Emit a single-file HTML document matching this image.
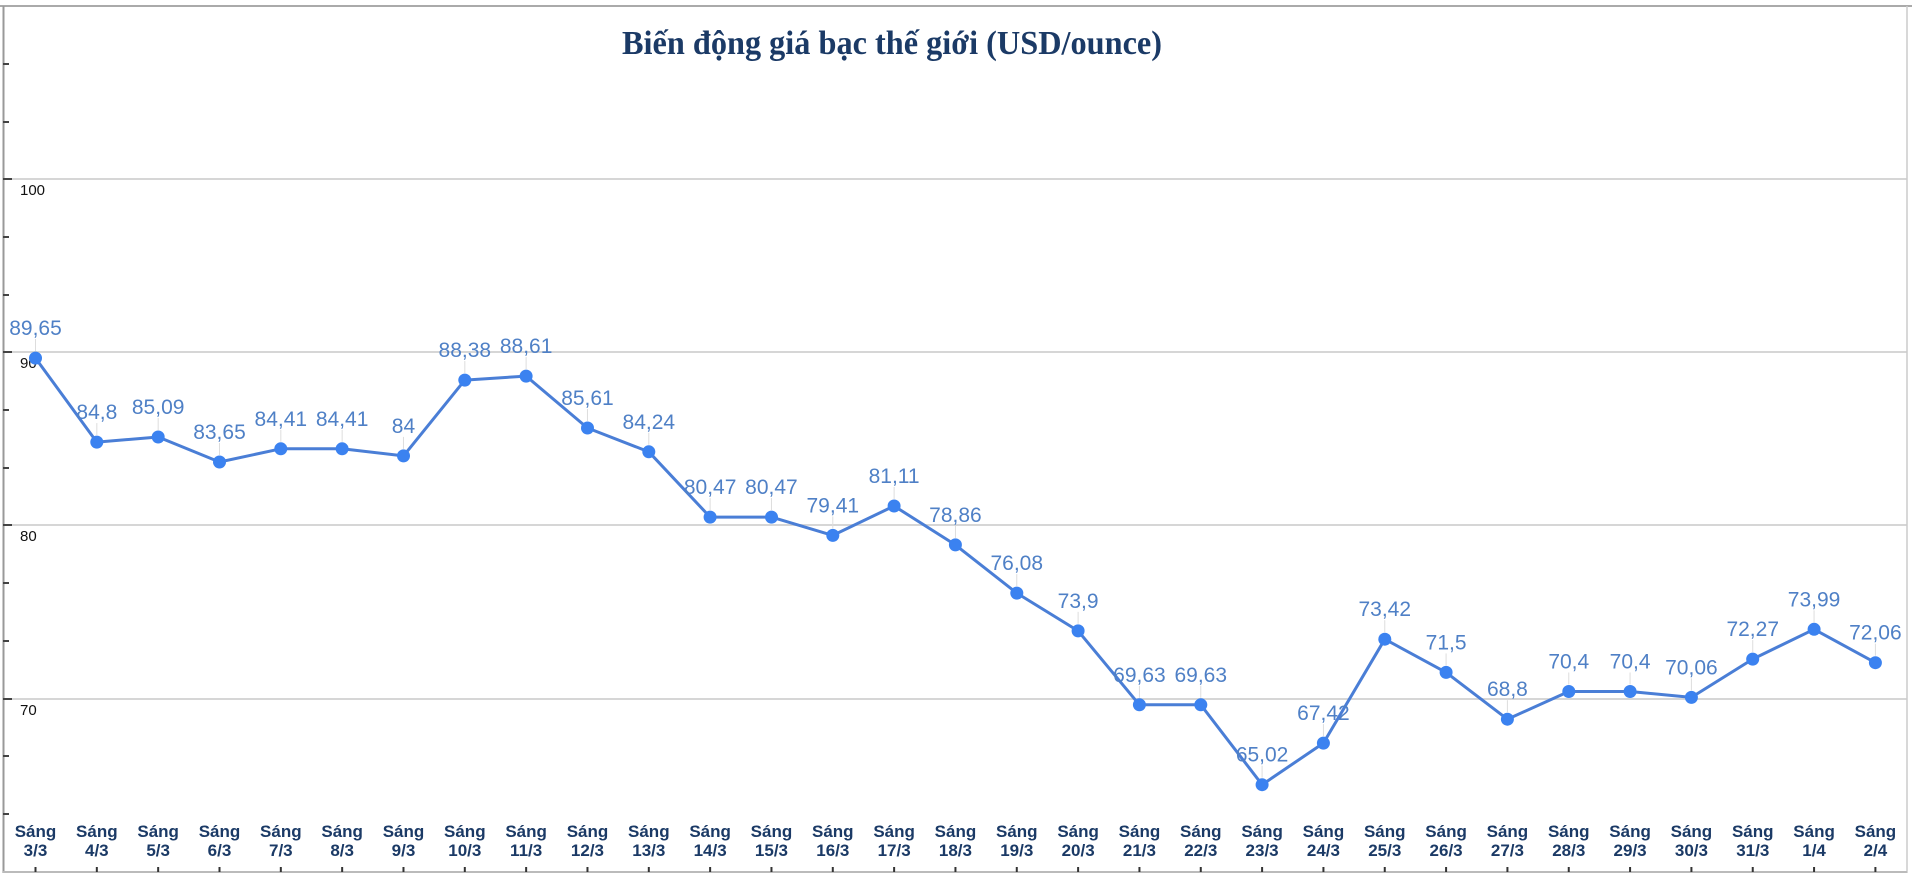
<!DOCTYPE html>
<html><head><meta charset="utf-8"><style>
html,body{margin:0;padding:0;background:#fff;}
svg{display:block;}
</style></head><body>
<svg width="1912" height="877" viewBox="0 0 1912 877" xmlns="http://www.w3.org/2000/svg">
<rect width="1912" height="877" fill="#fff"/>
<line x1="0" y1="6" x2="1912" y2="6" stroke="#aaa" stroke-width="2"/>
<g stroke="#d6d6d6" stroke-width="2">
<line x1="4" y1="179" x2="1907" y2="179"/>
<line x1="4" y1="352" x2="1907" y2="352"/>
<line x1="4" y1="525" x2="1907" y2="525"/>
<line x1="4" y1="699" x2="1907" y2="699"/>
</g>
<line x1="3.5" y1="6" x2="3.5" y2="873" stroke="#999" stroke-width="2"/>
<line x1="1907" y1="6" x2="1907" y2="873" stroke="#ccc" stroke-width="1.5"/>
<line x1="3" y1="872" x2="1907" y2="872" stroke="#bbb" stroke-width="2"/>
<g stroke="#444" stroke-width="2">
<line x1="3" y1="64" x2="9" y2="64"/><line x1="3" y1="122" x2="9" y2="122"/><line x1="3" y1="179" x2="12" y2="179"/>
<line x1="3" y1="237" x2="9" y2="237"/><line x1="3" y1="295" x2="9" y2="295"/><line x1="3" y1="352" x2="12" y2="352"/>
<line x1="3" y1="410" x2="9" y2="410"/><line x1="3" y1="468" x2="9" y2="468"/><line x1="3" y1="525" x2="12" y2="525"/>
<line x1="3" y1="583" x2="9" y2="583"/><line x1="3" y1="641" x2="9" y2="641"/><line x1="3" y1="699" x2="12" y2="699"/>
<line x1="3" y1="756" x2="9" y2="756"/><line x1="3" y1="814" x2="9" y2="814"/>
</g>
<g font-family="Liberation Sans, sans-serif" font-size="15" fill="#111">
<text x="20" y="195">100</text><text x="20" y="368">90</text><text x="20" y="541">80</text><text x="20" y="715">70</text>
</g>
<text x="892" y="54" text-anchor="middle" font-family="Liberation Serif, serif" font-weight="bold" font-size="34" fill="#1b3a66" textLength="540" lengthAdjust="spacingAndGlyphs">Biến động giá bạc thế giới (USD/ounce)</text>
<g id="chart"></g>
</svg>
<script>
var v=[89.65,84.8,85.09,83.65,84.41,84.41,84,88.38,88.61,85.61,84.24,80.47,80.47,79.41,81.11,78.86,76.08,73.9,69.63,69.63,65.02,67.42,73.42,71.5,68.8,70.4,70.4,70.06,72.27,73.99,72.06];
var d=["3/3","4/3","5/3","6/3","7/3","8/3","9/3","10/3","11/3","12/3","13/3","14/3","15/3","16/3","17/3","18/3","19/3","20/3","21/3","22/3","23/3","24/3","25/3","26/3","27/3","28/3","29/3","30/3","31/3","1/4","2/4"];
var g=document.getElementById('chart'),s='',pts=[];
for(var i=0;i<v.length;i++){var x=35.5+i*61.33,y=352-(v[i]-90)*17.32;pts.push(x.toFixed(1)+','+y.toFixed(1));
var lab=String(v[i]).replace('.',',');
s+='<line x1="'+x+'" y1="'+(y-19)+'" x2="'+x+'" y2="'+(y-7)+'" stroke="#ddd" stroke-width="1"/>';
s+='<text x="'+x+'" y="'+(y-23)+'" text-anchor="middle" font-family="Liberation Sans, sans-serif" font-size="21" fill="#4f80c6">'+lab+'</text>';
s+='<text x="'+x+'" y="837" text-anchor="middle" font-family="Liberation Sans, sans-serif" font-weight="bold" font-size="17" fill="#1b3a66">Sáng</text>';
s+='<text x="'+x+'" y="856" text-anchor="middle" font-family="Liberation Sans, sans-serif" font-weight="bold" font-size="17" fill="#1b3a66">'+d[i]+'</text>';
s+='<line x1="'+x+'" y1="867" x2="'+x+'" y2="872" stroke="#333" stroke-width="2"/>';}
s='<polyline points="'+pts.join(' ')+'" fill="none" stroke="#4a7ed6" stroke-width="3" stroke-linejoin="round"/>'+s;
for(var i=0;i<pts.length;i++){var p=pts[i].split(',');s+='<circle cx="'+p[0]+'" cy="'+p[1]+'" r="6.5" fill="#3b82f0"/>';}
g.innerHTML=s;
</script>
</body></html>
